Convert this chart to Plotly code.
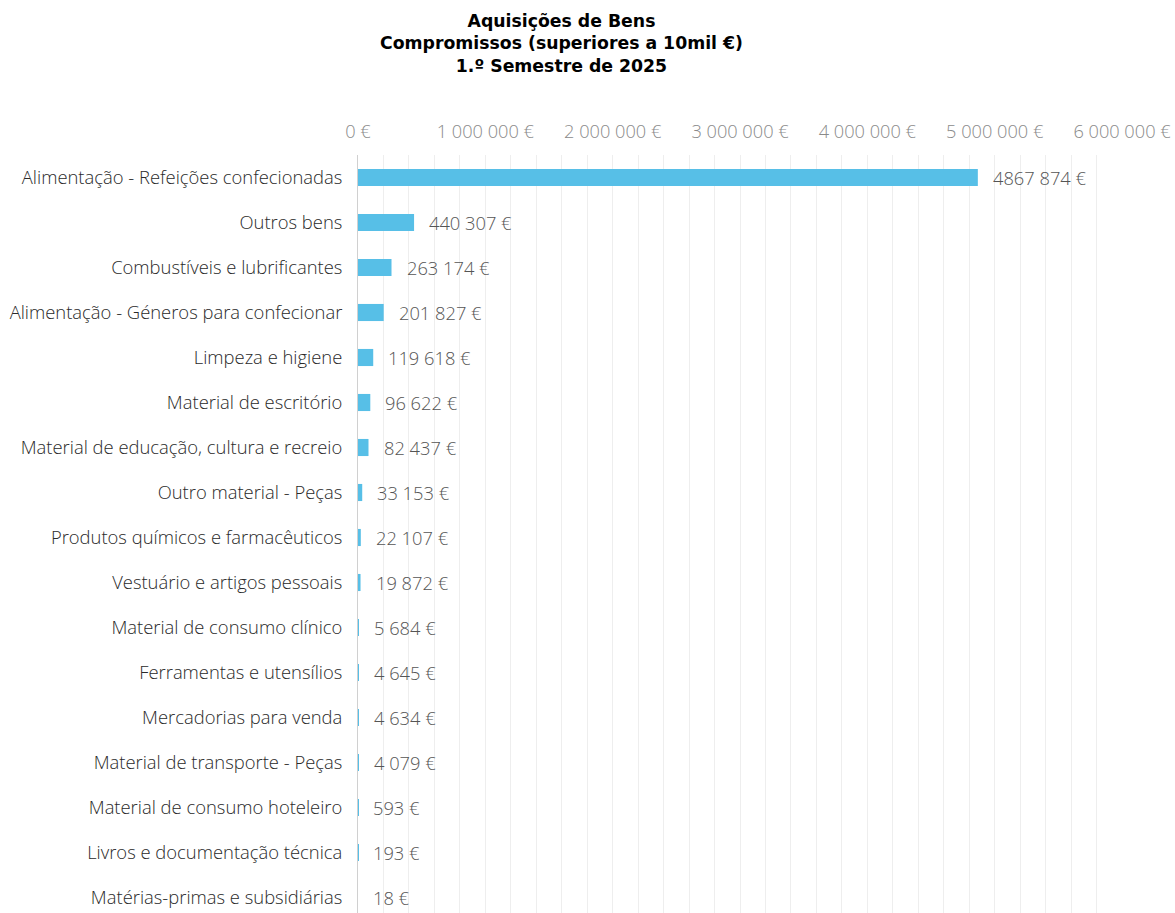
import plotly.graph_objects as go

categories = [
    "Alimentação - Refeições confecionadas",
    "Outros bens",
    "Combustíveis e lubrificantes",
    "Alimentação - Géneros para confecionar",
    "Limpeza e higiene",
    "Material de escritório",
    "Material de educação, cultura e recreio",
    "Outro material - Peças",
    "Produtos químicos e farmacêuticos",
    "Vestuário e artigos pessoais",
    "Material de consumo clínico",
    "Ferramentas e utensílios",
    "Mercadorias para venda",
    "Material de transporte - Peças",
    "Material de consumo hoteleiro",
    "Livros e documentação técnica",
    "Matérias-primas e subsidiárias",
]
values = [4867874, 440307, 263174, 201827, 119618, 96622, 82437, 33153,
          22107, 19872, 5684, 4645, 4634, 4079, 593, 193, 18]
value_labels = ["4867 874 €", "440 307 €", "263 174 €", "201 827 €", "119 618 €",
                "96 622 €", "82 437 €", "33 153 €", "22 107 €", "19 872 €",
                "5 684 €", "4 645 €", "4 634 €", "4 079 €", "593 €", "193 €", "18 €"]
tick_vals = [0, 1000000, 2000000, 3000000, 4000000, 5000000, 6000000]
tick_text = ["0 €", "1 000 000 €", "2 000 000 €", "3 000 000 €",
             "4 000 000 €", "5 000 000 €", "6 000 000 €"]
title_lines = ["Aquisições de Bens", "Compromissos (superiores a 10mil €)",
               "1.º Semestre de 2025"]

FONT = "Open Sans"
TITLE_FONT = "DejaVu Sans"

W, H = 1175, 913
ML, MR, MT, MB = 358, 53, 155, 0
plot_w = W - ML - MR
plot_h = H - MT - MB

fig = go.Figure()
fig.add_trace(go.Bar(
    y=categories, x=values, orientation="h",
    marker=dict(color="#57BFE7", line=dict(width=0)),
    width=0.38,
    hoverinfo="skip",
))

for c, v, t in zip(categories, values, value_labels):
    fig.add_annotation(x=v, y=c, text=t, xref="x", yref="y",
                       xanchor="left", yanchor="middle", xshift=13,
                       showarrow=False,
                       font=dict(family=FONT, size=18.3, color="#555555",
                                 weight=300))

fig.add_annotation(
    text="<br>".join(title_lines), xref="paper", yref="paper",
    x=(561 - ML) / plot_w, y=1 + (MT - 9) / plot_h,
    xanchor="center", yanchor="top", align="center", showarrow=False,
    font=dict(family=TITLE_FONT, size=17.3, color="#000000", weight="bold"),
)

fig.update_layout(
    width=W, height=H,
    margin=dict(l=ML, r=MR, t=MT, b=MB, autoexpand=False),
    paper_bgcolor="white", plot_bgcolor="white",
    showlegend=False,
    bargap=0.62,
    font=dict(family=FONT),
)

fig.update_xaxes(
    side="top", range=[0, 6000000], automargin=False,
    tickmode="array", tickvals=tick_vals, ticktext=tick_text,
    tickfont=dict(family=FONT, size=18.2, color="#8a8a8a", weight=300),
    showgrid=False, zeroline=False, showline=False,
    ticks="", ticklabelstandoff=12,
    minor=dict(tickmode="linear", tick0=0, dtick=200000, showgrid=True,
               gridcolor="#eeeeee", gridwidth=1, ticks=""),
)
fig.update_yaxes(
    categoryorder="array", categoryarray=categories, automargin=False,
    range=[-0.5 + plot_h / 45.0, -0.5],
    tickfont=dict(family=FONT, size=18.4, color="#2a2a2a", weight=300),
    showgrid=False, zeroline=False,
    showline=True, linecolor="#d0d0d0", linewidth=1,
    ticks="", ticklabelstandoff=11,
)

fig.write_html("out.html",
               config={"displayModeBar": False},
               post_script="document.body.style.margin='0';"
                           "document.body.style.overflow='hidden';")
